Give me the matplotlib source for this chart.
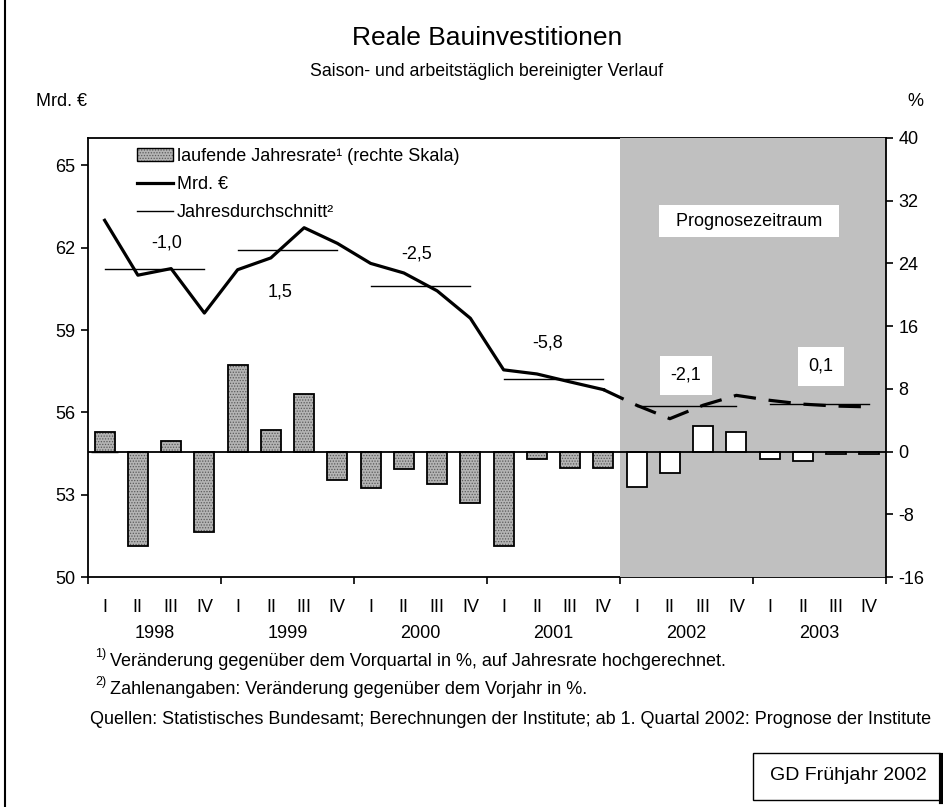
import matplotlib
matplotlib.use('Agg')
import matplotlib.pyplot as plt
from matplotlib.patches import Rectangle
from matplotlib.lines import Line2D
from matplotlib.legend_handler import HandlerTuple
import numpy as np

plt.rcParams['font.family'] = ['Liberation Sans', 'DejaVu Sans']
plt.rcParams['hatch.linewidth'] = 0.6
plt.rcParams['axes.unicode_minus'] = False

years = ['1998', '1999', '2000', '2001', '2002', '2003']
quarters = ['I', 'II', 'III', 'IV']
# laufende Jahresrate in % (rechte Skala), 1998 I - 2003 IV
rate = [2.5, -12.0, 1.4, -10.2, 11.0, 2.8, 7.4, -3.6,
        -4.7, -2.2, -4.2, -6.6, -12.0, -1.0, -2.1, -2.1,
        -4.5, -2.7, 3.2, 2.5, -1.0, -1.2, -0.35, -0.35]
# Mrd. Euro, 1998 I - 2001 IV
level = [63.0, 61.0, 61.24, 59.62, 61.2, 61.63, 62.73, 62.16,
         61.43, 61.08, 60.43, 59.43, 57.55, 57.4, 57.11, 56.83]
# Prognose, 2001 IV - 2003 IV
level_fc = [56.83, 56.26, 55.77, 56.26, 56.62, 56.44, 56.3, 56.23, 56.2]
year_avg = [61.22, 61.91, 60.6, 57.23, 56.22, 56.32]
year_change = ['-1,0', '1,5', '-2,5', '-5,8', '-2,1', '0,1']
n_hist = 16

# where the year change labels sit (quarter index, Mrd.)
change_pos = [(1.87, 62.16), (5.27, 60.39), (9.39, 61.79),
              (13.33, 58.52), (17.48, 57.35), (21.55, 57.68)]

FS = 13
W, H = 943, 807
fig = plt.figure(figsize=(W / 100, H / 100), dpi=100)
ax = fig.add_axes([88 / W, 1 - 577 / H, (886 - 88) / W, (577 - 138) / H])
ax2 = ax.twinx()

x = np.arange(len(rate))

# left scale
ax.set_xlim(-0.5, 23.5)
ax.set_ylim(50, 66)
ax.set_yticks(np.arange(50, 66, 3))
ax.axvspan(n_hist - 0.5, 23.5, color='#c0c0c0', lw=0, zorder=2.6)
ax.plot(x[:n_hist], level, color='black', lw=2.3, zorder=3)
ax.plot(x[n_hist - 1:], level_fc, color='black', lw=2.3, dashes=(7, 4), zorder=3)
for k, avg in enumerate(year_avg):
    ax.plot([4 * k, 4 * k + 3], [avg, avg], color='black', lw=1.0, zorder=3)

for k, (lab, (px, py)) in enumerate(zip(year_change, change_pos)):
    if k >= 4:
        ax.text(px, py, lab, ha='center', va='center', fontsize=FS, zorder=4,
                bbox=dict(facecolor='white', edgecolor='none', boxstyle='square,pad=0.6'))
    else:
        ax.text(px, py, lab, ha='center', va='center', fontsize=FS, zorder=4)

ax.text(19.38, 62.97, '  Prognosezeitraum  ', ha='center', va='center', fontsize=FS, zorder=4,
        bbox=dict(facecolor='white', edgecolor='none', boxstyle='square,pad=0.4'))

# right scale: bars
ax2.set_ylim(-16, 40)
ax2.set_yticks(np.arange(-16, 41, 8))
ax2.bar(x[:n_hist], rate[:n_hist], width=0.6, facecolor='#b4b4b4',
        edgecolor='#5a5a5a', hatch='......', linewidth=0, zorder=2)
ax2.bar(x[:n_hist], rate[:n_hist], width=0.6, fill=False,
        edgecolor='black', linewidth=1.3, zorder=2)
ax2.bar(x[n_hist:], rate[n_hist:], width=0.6, facecolor='white',
        edgecolor='black', linewidth=1.3, zorder=2)
ax2.axhline(0, color='black', lw=1.3, zorder=3)

# axes styling
for s in ['top', 'bottom', 'left']:
    ax.spines[s].set_linewidth(1.3)
ax.spines['right'].set_visible(False)
for s in ['top', 'bottom', 'left']:
    ax2.spines[s].set_visible(False)
ax2.spines['right'].set_linewidth(1.3)
ax2.spines['right'].set_zorder(5)

ax.tick_params(axis='y', direction='out', length=5, width=1.2, labelsize=FS, pad=4)
ax2.tick_params(axis='y', direction='out', length=5, width=1.2, labelsize=FS, pad=4)

ax.set_xticks(np.arange(-0.5, 24, 4))
ax.set_xticklabels([])
ax.tick_params(axis='x', which='major', direction='out', length=5, width=1.2)
ax.set_xticks(x, minor=True)
ax.set_xticklabels(quarters * len(years), minor=True)
ax.tick_params(axis='x', which='minor', length=0, labelsize=FS, pad=16)

for k, yr in enumerate(years):
    ax.text(4 * k + 1.5, (577 - 633) / 439, yr, transform=ax.get_xaxis_transform(),
            ha='center', va='center', fontsize=FS)

# legend
h_bar1 = ax2.bar([0], [0], facecolor='#b4b4b4', edgecolor='#5a5a5a', hatch='......', linewidth=0)[0]
h_bar2 = ax2.bar([0], [0], fill=False, edgecolor='black', linewidth=1.0)[0]
h_line = Line2D([], [], color='black', lw=2.3)
h_avg = Line2D([], [], color='black', lw=1.0)
ax2.legend([(h_bar1, h_bar2), h_line, h_avg],
           ['laufende Jahresrate¹ (rechte Skala)', 'Mrd. €', 'Jahresdurchschnitt²'],
           handler_map={tuple: HandlerTuple(ndivide=1, pad=0)},
           loc='upper left', bbox_to_anchor=(137 / W, 1 - 148 / H),
           bbox_transform=fig.transFigure, frameon=False, fontsize=FS,
           borderpad=0, borderaxespad=0, handlelength=2.0, handletextpad=0.2,
           labelspacing=0.62)

# titles and units
fig.text(487 / W, 1 - 38 / H, 'Reale Bauinvestitionen', ha='center', va='center', fontsize=19)
fig.text(487 / W, 1 - 72 / H, 'Saison- und arbeitstäglich bereinigter Verlauf',
         ha='center', va='center', fontsize=12.8)
fig.text(61 / W, 1 - 102 / H, 'Mrd. €', ha='center', va='center', fontsize=FS)
fig.text(915 / W, 1 - 102 / H, '%', ha='center', va='center', fontsize=FS)

# footnotes
fig.text(95 / W, 1 - 654 / H, '1)', ha='left', va='center', fontsize=9)
fig.text(110 / W, 1 - 661 / H, 'Veränderung gegenüber dem Vorquartal in %, auf Jahresrate hochgerechnet.',
         ha='left', va='center', fontsize=FS)
fig.text(95 / W, 1 - 682 / H, '2)', ha='left', va='center', fontsize=9)
fig.text(110 / W, 1 - 689 / H, 'Zahlenangaben: Veränderung gegenüber dem Vorjahr in %.',
         ha='left', va='center', fontsize=FS)
fig.text(90 / W, 1 - 719 / H,
         'Quellen: Statistisches Bundesamt; Berechnungen der Institute; ab 1. Quartal 2002: Prognose der Institute',
         ha='left', va='center', fontsize=FS)

# GD box and left border
fig.patches.append(Rectangle((753 / W, 1 - 800 / H), 187 / W, 47 / H, transform=fig.transFigure,
                             fill=False, edgecolor='black', lw=1.0))
fig.lines.append(Line2D([941 / W, 941 / W], [1 - 802 / H, 1 - 755 / H], transform=fig.transFigure,
                        color='black', lw=3))
fig.text(848 / W, 1 - 776 / H, 'GD Frühjahr 2002', ha='center', va='center', fontsize=14)
fig.lines.append(Line2D([5 / W, 5 / W], [0, 1], transform=fig.transFigure, color='black', lw=1.5))

fig.savefig('out.png', dpi=100)
